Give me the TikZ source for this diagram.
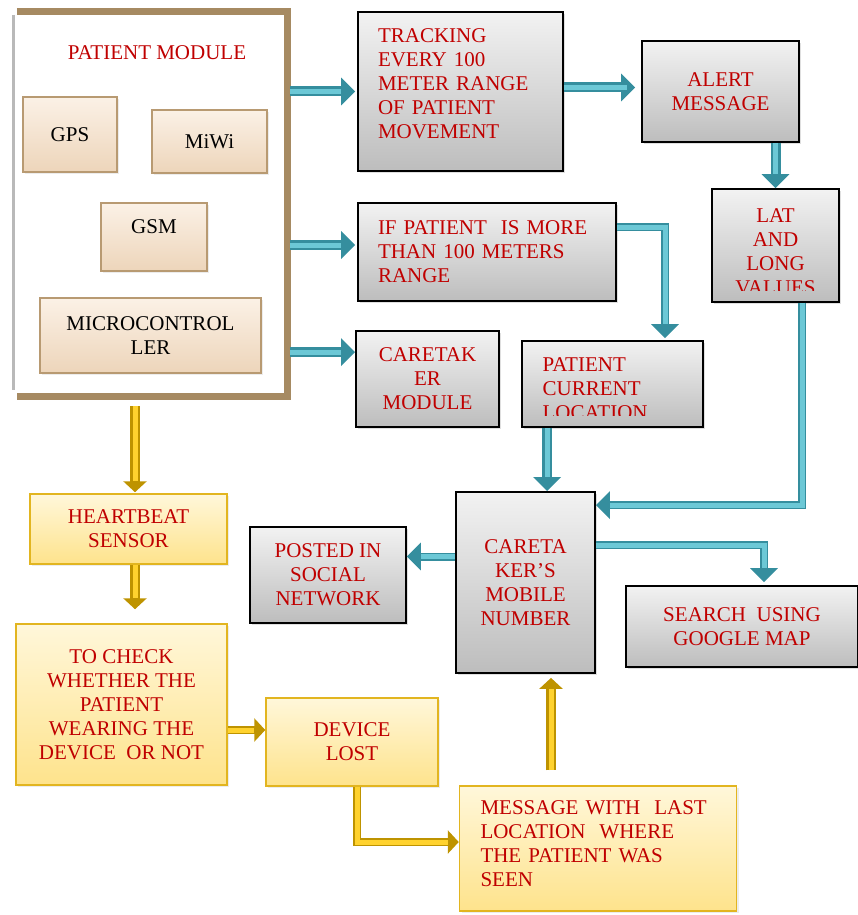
\documentclass[tikz,border=0pt]{standalone}
\usepackage{fontspec}
\setmainfont{Liberation Serif}
\usetikzlibrary{arrows.meta,calc,shadows}
\definecolor{alertred}{HTML}{C00000}
\definecolor{moduletan}{HTML}{A68A62}
\definecolor{peachtop}{HTML}{FBF1E6}
\definecolor{peachbottom}{HTML}{EDD5BA}
\definecolor{peachborder}{HTML}{B89A72}
\definecolor{goldtop}{HTML}{FFF7DA}
\definecolor{goldbottom}{HTML}{FEE38C}
\definecolor{goldborder}{HTML}{E2B520}
\definecolor{greytop}{HTML}{F2F2F2}
\definecolor{greybottom}{HTML}{BDBDBD}
\definecolor{tealdark}{HTML}{358E9E}
\definecolor{teallight}{HTML}{6CC8D6}
\definecolor{golddark}{HTML}{BE9300}
\definecolor{goldlight}{HTML}{FFD22E}

\begin{document}
\begin{tikzpicture}[
  x=1pt, y=-1pt,
  font=\fontsize{21pt}{24pt}\selectfont,
  greybox/.style={
    draw=black,
    line width=1.8pt,
    top color=greytop,
    bottom color=greybottom,
    text=alertred,
    align=center,
    inner sep=2pt,
    drop shadow={opacity=0.25, shadow xshift=2pt, shadow yshift=-2pt}
  },
  peachbox/.style={
    draw=peachborder,
    line width=1.5pt,
    top color=peachtop,
    bottom color=peachbottom,
    text=black,
    align=center,
    inner sep=2pt,
    drop shadow={opacity=0.15, shadow xshift=2pt, shadow yshift=-2pt}
  },
  goldbox/.style={
    draw=goldborder,
    line width=1.5pt,
    top color=goldtop,
    bottom color=goldbottom,
    text=alertred,
    align=center,
    inner sep=2pt,
    drop shadow={opacity=0.15, shadow xshift=2pt, shadow yshift=-2pt}
  },
  tealarrow/.style={
    draw=tealdark,
    line width=10pt,
    -{Triangle[width=27pt,length=14pt]},
    postaction={draw=teallight, line width=5pt, -, shorten >=14pt}
  },
  goldarrow/.style={
    draw=golddark,
    line width=10pt,
    -{Triangle[width=23pt,length=11pt]},
    postaction={draw=goldlight, line width=5pt, -, shorten >=11pt}
  }
]
  \useasboundingbox (0,0) rectangle (858,915);

  % --- PATIENT MODULE ---
  \node[minimum width=270pt, minimum height=384pt, fill=white] (pm) at (152,204) {};
  \draw[line width=7pt, moduletan] (pm.north west) -- (pm.north east) -- (pm.south east) -- (pm.south west);
  \draw[line width=3pt, gray!55] ($(pm.north west)+(-3,3)$) -- ($(pm.south west)+(-3,-6)$);
  \node[text=alertred] (pmtitle) at (157,53) {PATIENT MODULE};
  \node[peachbox, minimum width=94pt, minimum height=75pt] (gps) at (70,134.5) {GPS};
  \node[peachbox, minimum width=115pt, minimum height=63pt] (miwi) at (209.5,141.5) {MiWi};
  \node[peachbox, minimum width=106pt, minimum height=68pt] (gsm) at (154,237) {GSM\\[-4pt]\mbox{}};
  \node[peachbox, minimum width=221pt, minimum height=75pt] (mcu) at (150.5,335.5) {MICROCONTROL\\LER};

  % --- TRACKING SIDE ---
  \node[greybox, text width=165pt, inner xsep=20pt, minimum height=159pt, align=left] (track) at (460.5,91.5)
    {TRACKING\\EVERY 100\\METER RANGE\\OF PATIENT\\MOVEMENT\\[-8pt]\mbox{}};
  \node[greybox, minimum width=157pt, minimum height=101pt] (alert) at (720.5,91.5) {ALERT\\MESSAGE};
  \node[greybox, minimum width=127pt, minimum height=113pt] (latlong) at (775.5,245.5) {};
  \begin{scope}
    \clip (latlong.north west) rectangle ([yshift=12pt]latlong.south east);
    \node[text=alertred, align=center] (latlongtext) at ([yshift=-6pt]latlong.center) {LAT\\AND\\LONG\\VALUES};
  \end{scope}
  \node[greybox, text width=218pt, inner xsep=20pt, minimum height=98pt, align=left] (ifpat) at (487,252)
    {IF PATIENT~ IS MORE\\THAN 100 METERS\\RANGE};
  \node[greybox, minimum width=143pt, minimum height=96pt] (caremod) at (427.5,379) {CARETAK\\ER\\MODULE};
  \node[greybox, minimum width=181pt, minimum height=86pt] (patcur) at (612.5,384) {};
  \begin{scope}
    \clip (patcur.north west) rectangle ([yshift=12pt]patcur.south east);
    \node[text=alertred, align=left, anchor=west] (patcurtext) at ([xshift=18pt,yshift=-5pt]patcur.west) {PATIENT\\CURRENT\\LOCATION};
  \end{scope}

  % --- CARETAKER SIDE ---
  \node[greybox, minimum width=139pt, minimum height=181pt] (mobile) at (525.5,582.5) {CARETA\\KER’S\\MOBILE\\NUMBER};
  \node[greybox, minimum width=156pt, minimum height=96pt] (posted) at (328,575) {POSTED IN\\SOCIAL\\NETWORK};
  \node[greybox, minimum width=232pt, minimum height=81pt] (search) at (742,626.5) {SEARCH~ USING\\GOOGLE MAP};

  % --- HEARTBEAT SIDE ---
  \node[goldbox, minimum width=197pt, minimum height=70pt] (heart) at (128.5,529) {HEARTBEAT\\SENSOR};
  \node[goldbox, minimum width=211pt, minimum height=161pt] (check) at (121.5,704.5)
    {TO CHECK\\WHETHER THE\\PATIENT\\WEARING THE\\DEVICE~ OR NOT};
  \node[goldbox, minimum width=172pt, minimum height=88pt] (devlost) at (352,742) {DEVICE\\LOST};
  \node[goldbox, text width=235pt, inner xsep=21pt, minimum height=125pt, align=left] (message) at (598,848.5)
    {MESSAGE WITH~ LAST\\LOCATION~ WHERE\\THE PATIENT WAS\\SEEN\\[-15pt]\mbox{}};

  % Teal arrows
  \draw[tealarrow] ($(pm.east |- track.west)+(3,0)$) -- ([xshift=-2pt]track.west);
  \draw[tealarrow, shorten >=6pt] ($(track.east)+(0,-4)$) coordinate (ta) -- (ta -| alert.west);
  \draw[tealarrow] (alert.south -| latlong.north) -- (latlong.north);
  \draw[tealarrow] ($(pm.east |- ifpat.west)+(3,-7)$) -- ($(ifpat.west)+(-2,-7)$);
  \draw[tealarrow] ($(pm.east |- caremod.north)+(3,22)$) -- ($(caremod.north west)+(0,22)$);
  \draw[tealarrow, line width=8pt] ($(ifpat.north east)+(0,25)$) -| ($(patcur.north)+(52.5,-2)$);
  \draw[tealarrow] ($(patcur.south west)+(26,0)$) coordinate (pc) -- (pc |- mobile.north);
  \draw[tealarrow, line width=8pt] ($(latlong.south)+(26.5,0)$) |- ($(mobile.north east)+(0,14)$);
  \draw[tealarrow, line width=8pt] ($(mobile.west)+(0,-26)$) coordinate (mp) -- (mp -| posted.east);
  \draw[tealarrow, line width=8pt] ($(mobile.north east)+(0,54)$) -| ($(search.north)+(22,-3)$);

  % Gold arrows
  \draw[goldarrow] ($(pm.south)+(-17,10)$) -- ($(heart.north)+(6.5,-1)$);
  \draw[goldarrow] ($(heart.south)+(6.5,0)$) -- ($(check.north)+(13.5,-14)$);
  \draw[goldarrow, line width=8pt] ($(check.east)+(0,25.5)$) coordinate (cd) -- (cd -| devlost.west);
  \draw[goldarrow, line width=8pt] ($(devlost.south)+(5,0)$) |- ($(message.west)+(0,-6.5)$);
  \draw[goldarrow] ($(message.north)+(-47,-15)$) coordinate (mu) -- ([yshift=-4pt]mu |- mobile.south);

\end{tikzpicture}
\end{document}
